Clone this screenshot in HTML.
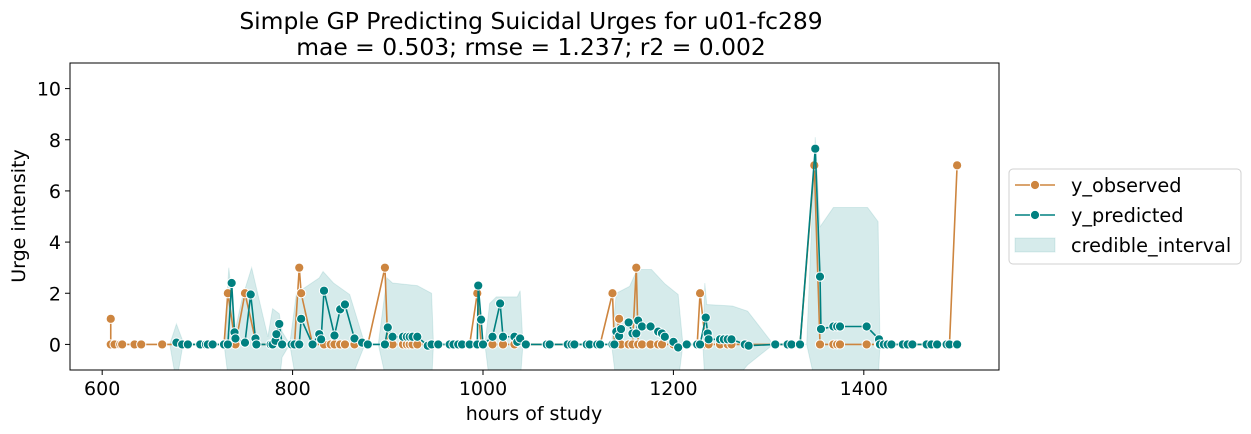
<!DOCTYPE html>
<html><head><meta charset="utf-8">
<style>
html,body{margin:0;padding:0;background:#fff;width:1251px;height:434px;overflow:hidden}
svg{display:block;font-family:"DejaVu Sans","Liberation Sans",sans-serif}
</style></head>
<body>
<svg id="chart" width="1251" height="434" viewBox="0 0 1251 434"></svg>
<script>
const obsT=[609,609,613,619,621,634,641,663,690,703,709,716,728,732,740,750,762,777,789,799,802,807,809,821,833,840,844,850,855,865,879,897,900,905,916,920,923,926,931,946,965,974,986,994,998,1000,1010,1021,1033,1045,1070,1093,1112,1123,1136,1138,1143,1145,1153,1157,1161,1163,1167,1176,1184,1188,1200,1214,1225,1228,1234,1237,1249,1257,1261,1275,1307,1320,1333,1348,1354,1368,1372,1375,1403,1416,1429,1441,1451,1466,1477,1490,1498];
const obsV=[1,0,0,0,0,0,0,0,0,0,0,0,0,2,0,2,0,0,0,0,0,3,2,0,0,0,0,0,0,0,0,3,0,0,0,0,0,0,0,0,0,0,0,2,0,0,0,0,0,0,0,0,0,0,2,0,1,0,0,0,3,0,0,0,0,0,0,0,0,2,0,0,0,0,0,0,0,0,0,7,0,0,0,0,0,0,0,0,0,0,0,0,7];
const predT=[678,684,690,703,709,711,716,728,732,736,739,740,750,756,761,762,777,779,782,783,786,789,799,802,807,809,821,828,830,833,844,850,855,865,873,879,897,900,905,916,920,923,926,931,942,946,953,965,969,974,978,986,994,995,998,1000,1010,1018,1021,1033,1036,1039,1045,1067,1070,1089,1093,1096,1109,1112,1120,1123,1136,1138,1140,1143,1145,1153,1157,1161,1163,1167,1176,1184,1188,1191,1200,1205,1214,1225,1228,1234,1236,1237,1249,1253,1257,1261,1275,1279,1307,1320,1324,1333,1349,1354,1355,1368,1372,1375,1403,1416,1417,1421,1425,1429,1441,1446,1451,1466,1471,1477,1487,1490,1498];
const predV=[0.07,0,0,0,0,0,0,0,0,2.4,0.47,0.23,0.07,1.95,0.23,0,0,0,0.14,0.4,0.8,0,0,0,0,1.0,0,0.4,0.2,2.1,0.35,1.37,1.56,0.23,0.07,0,0,0.66,0.3,0.3,0.3,0.3,0.3,0.3,-0.05,0,0,0,0,0,0,0,0,2.3,0.97,0,0.3,1.6,0.3,0.3,0.1,0.23,0,0,0,0,0,0,0,0,0,0,0,0,0.5,0.33,0.6,0.86,0.43,0.43,0.93,0.7,0.7,0.5,0.43,0.3,0.1,-0.12,0,0,0,1.05,0.43,0.2,0.2,0.2,0.2,0.2,0,-0.05,0,0,0,0,7.65,2.65,0.6,0.7,0.7,0.7,0.7,0.2,0,0,0,0,0,0,0,0,0,0,0,0,0];
const ciT=[671,678,684,690,728,733,740,747,757,774,779,786,789,797,804,828,832,843,860,876,890,899,905,931,946,948,1002,1007,1014,1036,1039,1042,1135,1140,1154,1162,1177,1191,1205,1210,1231,1233,1235,1262,1278,1305,1340,1349,1354,1368,1404,1415,1417];
const ciLo=[0,-1.5,-0.2,0,0,-1.5,-1.5,-1.5,-1.5,-1.5,-1.5,-1.5,-0.5,0,-1.5,-1.5,-1.5,-1.5,-1.5,0,0,-1.5,-1.5,-1.5,-1.5,0,0,-1.5,-1.5,-1.5,-1.5,0,0,-1.5,-1.5,-1.5,-1.5,-1.5,-1.5,0,0,-1.5,-1.5,-1.5,-0.8,0,0,-1.5,-1.5,-1.5,-1.5,-1.5,0];
const ciHi=[0,0.8,0.2,0,0,3.0,0.6,1.8,3.0,0.3,1.4,1.2,0.5,0,2.0,2.6,2.85,2.4,1.95,0,0,2.6,2.4,2.3,2.0,0,0,1.6,1.86,1.86,2.1,0,0,2.0,2.27,2.93,2.93,2.37,1.95,0,0,2.4,1.56,1.5,1.3,0,0,8.1,4.6,5.35,5.35,4.8,0];
const xTicks=[600,800,1000,1200,1400];
const yTicks=[0,2,4,6,8,10];

const L=70,R=999,T=63,B=370;
const xMin=566.2,xMax=1542;
const yMin=-1,yMax=11;
const sx=v=>L+(v-xMin)/(xMax-xMin)*(R-L);
const sy=v=>B-(v-yMin)/(yMax-yMin)*(B-T);
const NS="http://www.w3.org/2000/svg";
const svg=document.getElementById('chart');
function mk(tag,attrs,parent){const e=document.createElementNS(NS,tag);for(const k in attrs)e.setAttribute(k,attrs[k]);(parent||svg).appendChild(e);return e;}

const defs=mk('defs',{});
const cp=mk('clipPath',{id:'clip'},defs);mk('rect',{x:L,y:T,width:R-L,height:B-T},cp);

let d='M'+ciT.map((t,i)=>sx(t)+','+sy(ciHi[i])).join('L');
for(let i=ciT.length-1;i>=0;i--)d+='L'+sx(ciT[i])+','+sy(ciLo[i]);
d+='Z';
const band=mk('path',{d:d,fill:'#008080','fill-opacity':'0.16',stroke:'#008080','stroke-opacity':'0.12','clip-path':'url(#clip)'});



function series(T_,V_,color,name){
  const g=mk('g',{'clip-path':'url(#clip)'});
  
  
  const pl=mk('polyline',{points:T_.map((t,i)=>sx(t)+','+sy(V_[i])).join(' '),fill:'none',stroke:color,'stroke-width':1.6},g);
  
  
  T_.forEach((t,i)=>{
    const c=mk('circle',{cx:sx(t),cy:sy(V_[i]),r:4.6,fill:color,stroke:'#fff','stroke-width':1},g);
    
    
  });
}
series(obsT,obsV,'#cd853f','y-observed');
series(predT,predV,'#008080','y-predicted');

const fr=mk('rect',{x:L,y:T,width:R-L,height:B-T,fill:'none',stroke:'#000','stroke-width':1});



xTicks.forEach(v=>{
  const x=sx(v);
  mk('line',{x1:x,x2:x,y1:B,y2:B+5,stroke:'#000'});
  const t=mk('text',{x:x,y:B+25,'text-anchor':'middle','font-size':'19px',fill:'#000'});
  t.textContent=v;
  
  
});
yTicks.forEach(v=>{
  const y=sy(v);
  mk('line',{x1:L-5,x2:L,y1:y,y2:y,stroke:'#000'});
  const t=mk('text',{x:L-9,y:y+7,'text-anchor':'end','font-size':'19px',fill:'#000'});
  t.textContent=v;
  
  
});
</script>
<script>
const s2=document.getElementById('chart');
s2.insertAdjacentHTML('beforeend',`
<text x="531" y="29" text-anchor="middle" font-size="23.4px">Simple GP Predicting Suicidal Urges for u01-fc289</text>
<text x="531" y="55" text-anchor="middle" font-size="23.4px">mae = 0.503; rmse = 1.237; r2 = 0.002</text>
<text x="534" y="420" text-anchor="middle" font-size="19px">hours of study</text>
<text x="0" y="0" transform="translate(25,216) rotate(-90)" text-anchor="middle" font-size="19px">Urge intensity</text>
<g>
<rect x="1009" y="169" width="232" height="95" rx="4" fill="#fff" stroke="#d0d0d0"/>
<g>
<line x1="1015" x2="1055" y1="185" y2="185" stroke="#cd853f" stroke-width="1.6"/>
<circle cx="1035" cy="185" r="4.6" fill="#cd853f" stroke="#fff"/>
<text x="1071" y="192" font-size="19.3px">y_observed</text></g>
<g>
<line x1="1015" x2="1055" y1="215" y2="215" stroke="#008080" stroke-width="1.6"/>
<circle cx="1035" cy="215" r="4.6" fill="#008080" stroke="#fff"/>
<text x="1071" y="222" font-size="19.3px">y_predicted</text></g>
<g>
<rect x="1015" y="238" width="40" height="14" fill="#008080" fill-opacity="0.16" stroke="#008080" stroke-opacity="0.12"/>
<text x="1071" y="252" font-size="19.3px">credible_interval</text></g>
</g>`);
</script>
</body></html>
